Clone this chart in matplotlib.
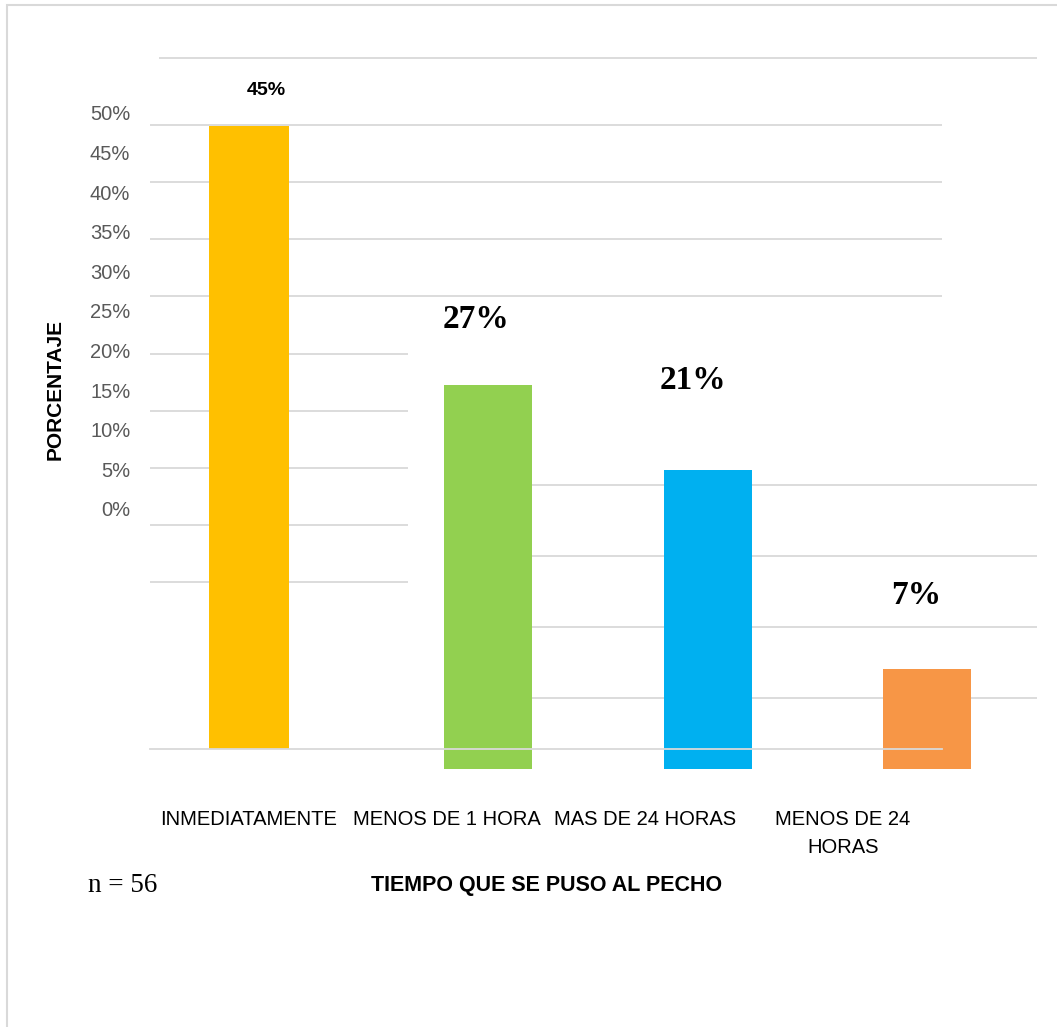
import matplotlib.pyplot as plt
from matplotlib.patches import Rectangle

categorias = ['INMEDIATAMENTE', 'MENOS DE 1 HORA', 'MAS DE 24 HORAS', 'MENOS DE 24\nHORAS']
porcentajes = [45, 27, 21, 7]
colores = ['#FFC000', '#92D050', '#00B0F0', '#F79646']
ticks_y = [0, 5, 10, 15, 20, 25, 30, 35, 40, 45, 50]
n_total = 56

W, H = 1057, 1027
gris = '#D9D9D9'
sans = ['Liberation Sans', 'DejaVu Sans']
serif = ['Liberation Serif', 'DejaVu Serif']


def caja(x0, x1, y_top, y_bot):
    # rectangulo en pixeles -> fracciones de la figura
    return [x0 / W, 1 - y_bot / H, (x1 - x0) / W, (y_bot - y_top) / H]


fig = plt.figure(figsize=(W / 100, H / 100), dpi=100)

# lineas de cuadricula sueltas de la parte superior/izquierda
axg = fig.add_axes(caja(150, 942, 125, 696.4))
axg.set_xlim(0, 1)
axg.set_ylim(0, 50)
axg.hlines([35, 40, 45, 50], 0, 1, color=gris, lw=1.3, clip_on=False)
axg.hlines([10, 15, 20, 25, 30], 0, (408 - 150) / 792, color=gris, lw=1.3, clip_on=False)
axg.axis('off')

# barras 2-4
axb = fig.add_axes(caja(159, 1037, 58, 769))
axb.patch.set_alpha(0)
axb.set_xlim(-0.5, 3.5)
axb.set_ylim(0, 50)
x = list(range(len(categorias)))
axb.bar(x[1:], porcentajes[1:], width=0.4, color=colores[1:], zorder=2)
axb.hlines([5, 10, 15, 20], 1.2, 3.5, color=gris, lw=1.3, zorder=1)
axb.hlines([50], -0.5, 3.5, color=gris, lw=1.3, zorder=1, clip_on=False)
desp = [(-12, 66), (-15, 90), (-11, 74)]
for xi, v, d in zip(x[1:], porcentajes[1:], desp):
    axb.annotate(str(v) + '%', (xi, v), xytext=d, textcoords='offset pixels',
                 ha='center', va='center', fontsize=24, fontweight='bold', family=serif)
axb.axis('off')

# barra 1 y eje de categorias
axl = fig.add_axes(caja(150, 942, 57, 749))
axl.patch.set_alpha(0)
axl.set_xlim(-0.5, 3.5)
axl.set_ylim(0, 50)
axl.bar(x[0], porcentajes[0], width=0.4, color=colores[0], zorder=2)
axl.annotate(str(porcentajes[0]) + '%', (x[0], porcentajes[0]), xytext=(17, 36),
             textcoords='offset pixels', ha='center', va='center',
             fontsize=14, fontweight='bold', family=sans)
for s in ['top', 'left', 'right']:
    axl.spines[s].set_visible(False)
axl.spines['bottom'].set_color(gris)
axl.spines['bottom'].set_linewidth(1.3)
axl.set_yticks([])
axl.set_xticks(x)
axl.set_xticklabels(categorias, fontsize=14.5, family=sans, color='#000000', linespacing=1.6)
axl.tick_params(axis='x', length=0, pad=44)

# etiquetas del eje y
axt = fig.add_axes(caja(140, 141, 113, 509))
axt.set_ylim(0, 50)
axt.set_yticks(ticks_y)
axt.set_yticklabels([f'{t}%' for t in ticks_y], fontsize=14.5, family=sans, color='#595959')
axt.tick_params(axis='y', length=0, pad=7)
axt.set_xticks([])
for s in axt.spines.values():
    s.set_visible(False)
axt.patch.set_alpha(0)

fig.text(55 / W, 1 - 389 / H, 'PORCENTAJE', rotation=90, ha='center', va='center',
         fontsize=15, fontweight='bold', family=sans)
fig.text(547 / W, 1 - 886 / H, 'TIEMPO QUE SE PUSO AL PECHO', ha='center', va='center',
         fontsize=15.5, fontweight='bold', family=sans)
fig.text(88 / W, 1 - 886 / H, f'n = {n_total}', ha='left', va='center',
         fontsize=19.5, family=serif)

# marco gris (solo se ven el borde superior e izquierdo)
fig.add_artist(Rectangle((7 / W, -0.1), 1.2, 1.1 - 5 / H, transform=fig.transFigure,
                         fill=False, edgecolor=gris, lw=1.5))

fig.savefig('out.png', dpi=100)
